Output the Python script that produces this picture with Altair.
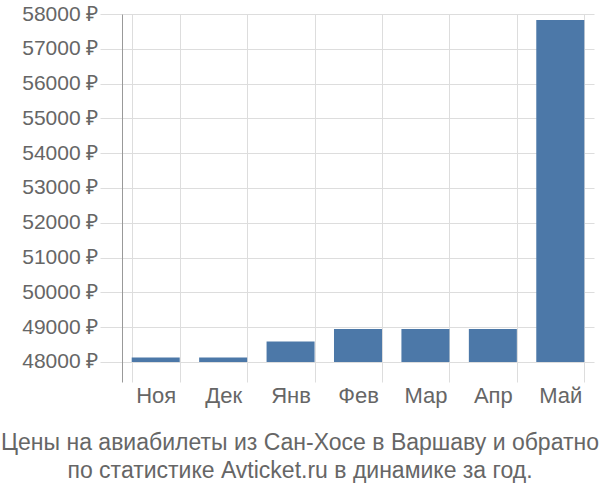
import altair as alt
import pandas as pd

months = ["Ноя", "Дек", "Янв", "Фев", "Мар", "Апр", "Май"]
prices = [48130, 48130, 48585, 48945, 48950, 48950, 57830]
base = [48000] * 7
y_ticks = [48000, 49000, 50000, 51000, 52000, 53000, 54000, 55000, 56000, 57000, 58000]
title_lines = ["Цены на авиабилеты из Сан-Хосе в Варшаву и обратно",
               "по статистике Avticket.ru в динамике за год."]

df = pd.DataFrame({"month": months, "price": prices, "base": base})

FONT = "Liberation Sans"

bars = alt.Chart(df).mark_bar(color="#4c78a8").encode(
    x=alt.X("month:N", sort=months, title=None,
            scale=alt.Scale(paddingInner=0.288, paddingOuter=0.144),
            axis=alt.Axis(labelAngle=0, labelFontSize=22, labelColor="#666",
                          labelFont=FONT, ticks=False, domain=False,
                          grid=True, gridColor="#dddddd", tickBand="extent",
                          labelPadding=3)),
    y=alt.Y("price:Q", title=None,
            scale=alt.Scale(domain=[47424, 58000], nice=False, zero=False),
            axis=alt.Axis(values=y_ticks, labelExpr="format(datum.value, 'd') + ' ₽'",
                          labelFontSize=21, labelColor="#666", labelFont=FONT,
                          grid=True, gridColor="#dddddd", tickColor="#dddddd",
                          tickSize=22, labelPadding=2, domainColor="#999999")),
    y2="base:Q",
)

chart = bars.properties(
    width=472, height=368,
    autosize=alt.AutoSizeParams(type="none"),
    padding={"left": 122, "top": 14, "right": 6, "bottom": 118},
    title=alt.TitleParams(text=title_lines, orient="bottom", anchor="middle",
                          dx=-58, fontSize=23, color="#666", font=FONT,
                          fontWeight="normal", lineHeight=28, offset=26),
).configure_view(stroke=None)

chart.save("out.html", embed_options={"renderer": "svg", "actions": False})
